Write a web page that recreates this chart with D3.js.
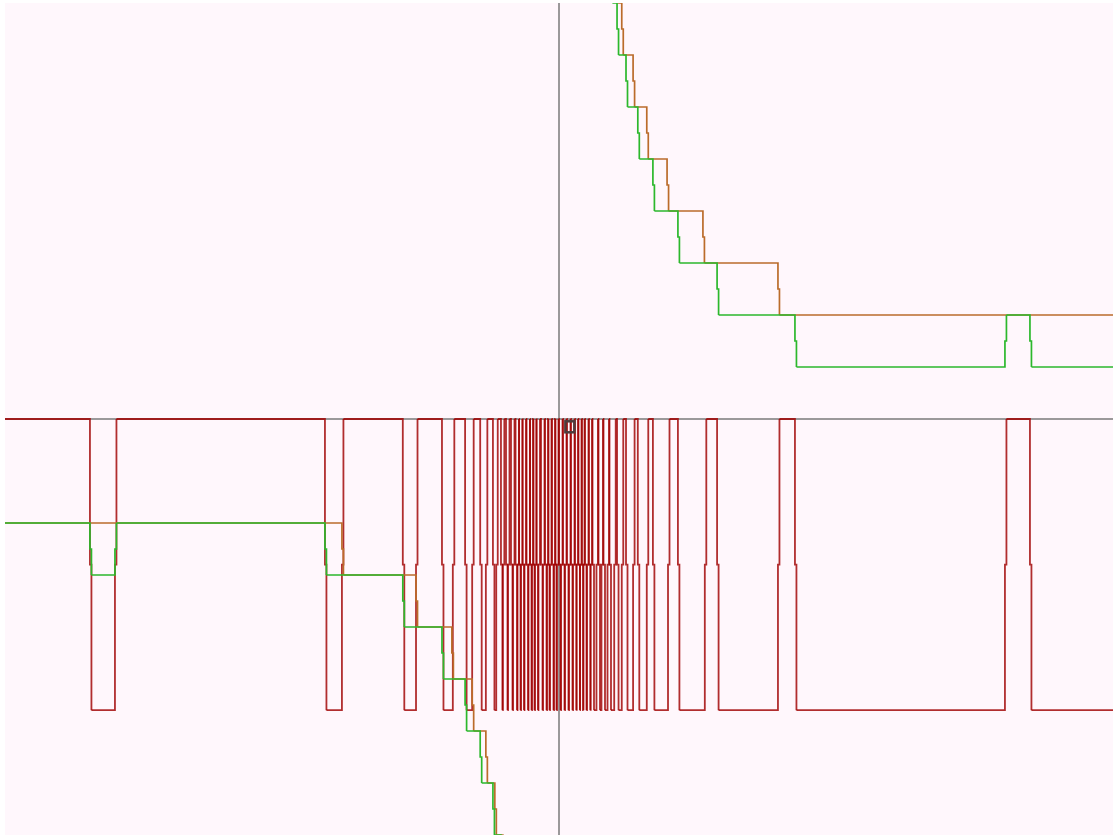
<!DOCTYPE html>
<html><head><meta charset="utf-8">
<script src="https://cdn.jsdelivr.net/npm/d3@7"></script>
<style>body{margin:0;background:#fff}svg{display:block}</style>
</head><body><script>
// ---- data (x in chart units, y in chart units) ----
const xDomain = [-1.174, 1.174];
const yDomain = [-8, 8];

// step series: breaks (x where level changes) and levels (one more than breaks)
const greenLeftStart = -1.174, greenLeftEnd = -0.105;
const greenLeftBreaks = [-0.994, -0.941, -0.496, -0.331, -0.248, -0.199, -0.167, -0.140, -0.123, -0.110];
const greenLeftLevels = [-2, -3, -2, -3, -4, -5, -6, -7, -8, -9, -10];
const greenRightStart = 0.105, greenRightEnd = 1.174;
const greenRightBreaks = [0.110, 0.123, 0.142, 0.167, 0.199, 0.252, 0.335, 0.500, 0.945, 0.998];
const greenRightLevels = [9, 8, 7, 6, 5, 4, 3, 2, 1, 2, 1];

const brownLeftStart = -1.174, brownLeftEnd = -0.110;
const brownLeftBreaks = [-0.460, -0.303, -0.227, -0.184, -0.155, -0.136, -0.119];
const brownLeftLevels = [-2, -3, -4, -5, -6, -7, -8, -9];
const brownRightStart = 0.110, brownRightEnd = 1.174;
const brownRightBreaks = [0.121, 0.133, 0.157, 0.186, 0.229, 0.305, 0.464];
const brownRightLevels = [9, 8, 7, 6, 5, 4, 3, 2];

// red: toggles between high (0) and low at each break; starts high at the left
const redHigh = 0, redLow = -5.6, redStartLevel = 0;
const redBreaks = [
  -0.994,-0.941, -0.496,-0.460, -0.331,-0.303, -0.248,-0.225, -0.199,-0.184,
  -0.167,-0.155, -0.140,-0.133, -0.123,-0.119,
  -0.1123,-0.1081, -0.1017,-0.0975, -0.0921,-0.0879, -0.0847,-0.0805,
  -0.0773,-0.0731, -0.0688,-0.0646, -0.0614,-0.0572, -0.0551,-0.0509,
  -0.0477,-0.0435, -0.0381,-0.0339, -0.0296,-0.0254, -0.0233,-0.0191,
  -0.0148,-0.0106, -0.0085,-0.0043,
  0.000,
  0.0043,0.0085, 0.0127,0.0169, 0.0212,0.0254, 0.0297,0.0339, 0.0371,0.0413,
  0.0445,0.0487, 0.0509,0.0551, 0.0593,0.0635, 0.0668,0.0710, 0.0794,0.0837,
  0.0900,0.0943, 0.1028,0.1070,
  0.117,0.123, 0.133,0.142, 0.157,0.167, 0.186,0.199, 0.231,0.252, 0.309,0.335,
  0.464,0.500, 0.945,0.998
];
const marker = [{x: 0.023, y: -0.15}];

// ---- layout ----
const W = 1117, H = 836;
const plot = {left: 5, right: 1113, top: 3, bottom: 835};
const colors = {bg: "#fff7fc", axis: "#7a7a7a", red: "#a00000", green: "#2cb82c", brown: "#bb6c2b"};

const svg = d3.select("body").append("svg").attr("width", W).attr("height", H);
const xs = d3.scaleLinear().domain(xDomain).range([plot.left, plot.right]);
const ys = d3.scaleLinear().domain(yDomain).range([plot.bottom, plot.top]);

svg.append("rect").attr("x", plot.left).attr("y", plot.top)
  .attr("width", plot.right - plot.left).attr("height", plot.bottom - plot.top)
  .attr("fill", colors.bg);
svg.append("clipPath").attr("id", "clip").append("rect")
  .attr("x", plot.left).attr("y", plot.top)
  .attr("width", plot.right - plot.left).attr("height", plot.bottom - plot.top);

const g = svg.append("g").attr("clip-path", "url(#clip)");

// axes lines
g.append("line").attr("x1", xs(0)).attr("x2", xs(0)).attr("y1", plot.top).attr("y2", plot.bottom)
  .attr("stroke", colors.axis).attr("stroke-width", 1.5);
g.append("line").attr("x1", plot.left).attr("x2", plot.right).attr("y1", ys(0)).attr("y2", ys(0))
  .attr("stroke", colors.axis).attr("stroke-width", 1.5);

const JOG = 1.5;
// returns one piece of polyline per break (plus final tail)
function stepPieces(start, end, breaks, levels) {
  const pieces = [];
  let prev = [xs(start), ys(levels[0])];
  breaks.forEach((b, i) => {
    const a = levels[i], c = levels[i + 1], m = (a + c) / 2, px = xs(b);
    const piece = [prev, [px, ys(a)], [px, ys(m)], [px + JOG, ys(m)], [px + JOG, ys(c)]];
    pieces.push(piece);
    prev = piece[piece.length - 1];
  });
  pieces.push([prev, [xs(end), ys(levels[levels.length - 1])]]);
  return pieces;
}
const line = d3.line();

// red series: each piece drawn separately so overlapping edges darken
const redLevels = [redStartLevel];
redBreaks.forEach(() => redLevels.push(redLevels[redLevels.length - 1] === redHigh ? redLow : redHigh));
g.append("g").selectAll("path").data(stepPieces(xDomain[0], xDomain[1], redBreaks, redLevels))
  .enter().append("path").attr("d", d => line(d))
  .attr("fill", "none").attr("stroke", colors.red).attr("stroke-opacity", 0.82)
  .attr("stroke-width", 1.8);

function drawSeries(s, color) {
  g.append("path").attr("d", stepPieces(...s).map(p => line(p)).join(""))
    .attr("fill", "none").attr("stroke", color).attr("stroke-width", 1.7);
}
drawSeries([brownLeftStart, brownLeftEnd, brownLeftBreaks, brownLeftLevels], colors.brown);
drawSeries([brownRightStart, brownRightEnd, brownRightBreaks, brownRightLevels], colors.brown);
drawSeries([greenLeftStart, greenLeftEnd, greenLeftBreaks, greenLeftLevels], colors.green);
drawSeries([greenRightStart, greenRightEnd, greenRightBreaks, greenRightLevels], colors.green);

g.selectAll("rect.mk").data(marker).enter().append("rect").attr("class", "mk")
  .attr("x", d => xs(d.x) - 4.5).attr("y", d => ys(d.y) - 5.5)
  .attr("width", 9).attr("height", 11)
  .attr("fill", "none").attr("stroke", "#4e3c3c").attr("stroke-width", 2.5);
</script></body></html>
